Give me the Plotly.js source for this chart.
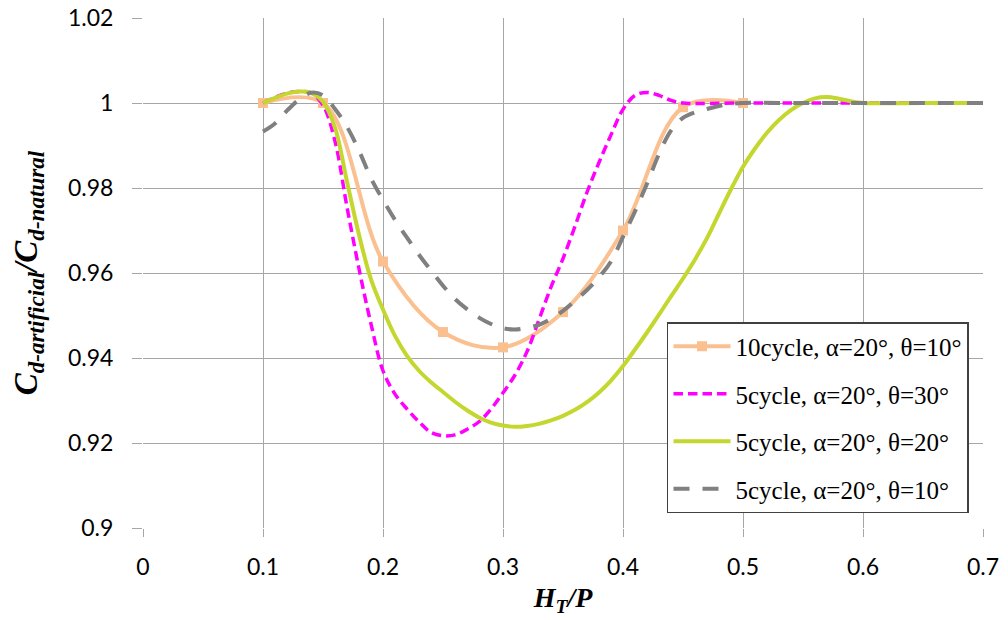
<!DOCTYPE html>
<html>
<head>
<meta charset="utf-8">
<script src="https://cdn.plot.ly/plotly-3.0.1.min.js"></script>
<style>
  html, body { margin: 0; padding: 0; background: #ffffff; }
  #chart { width: 1008px; height: 620px; }
</style>
</head>
<body>
<div id="chart"></div>
<script>
// Discharge coefficient ratio against relative head H_T/P

// 10 cycles, alpha = 20°, theta = 10° (measured points)
const xCycle10 = [0.10, 0.15, 0.20, 0.25, 0.30, 0.35, 0.40, 0.45, 0.50];
const yCycle10 = [1.0000, 1.0000, 0.9627, 0.9461, 0.9425, 0.9508, 0.9700, 0.9990, 1.0000];

// 5 cycles, alpha = 20°, theta = 30°
const xTheta30 = [0.10, 0.11, 0.12, 0.13, 0.14, 0.15, 0.16, 0.17, 0.18, 0.19, 0.20,
                  0.21, 0.22, 0.23, 0.24, 0.25, 0.26, 0.27, 0.28, 0.29, 0.30,
                  0.31, 0.32, 0.33, 0.34, 0.35, 0.36, 0.37, 0.38, 0.39, 0.40,
                  0.41, 0.42, 0.43, 0.44, 0.45, 0.50, 0.55, 0.60, 0.65, 0.70];
const yTheta30 = [1.0000, 1.0013, 1.0023, 1.0027, 1.0024, 0.9995, 0.9910, 0.9755, 0.9610, 0.9480, 0.9370,
                  0.9315, 0.9280, 0.9250, 0.9225, 0.9217, 0.9219, 0.9232, 0.9250, 0.9280, 0.9318,
                  0.9360, 0.9415, 0.9490, 0.9567, 0.9634, 0.9710, 0.9790, 0.9860, 0.9925, 0.9985,
                  1.0018, 1.0025, 1.0018, 1.0006, 1.0000, 1.0000, 1.0000, 1.0000, 1.0000, 1.0000];

// 5 cycles, alpha = 20°, theta = 20°
const xTheta20 = [0.10, 0.11, 0.12, 0.13, 0.14, 0.15, 0.16, 0.17, 0.18, 0.19, 0.20,
                  0.21, 0.22, 0.23, 0.24, 0.25, 0.26, 0.27, 0.28, 0.29, 0.30,
                  0.31, 0.32, 0.33, 0.34, 0.35, 0.36, 0.37, 0.38, 0.39, 0.40,
                  0.41, 0.42, 0.43, 0.44, 0.45, 0.46, 0.47, 0.48, 0.49, 0.50,
                  0.51, 0.52, 0.53, 0.54, 0.55, 0.56, 0.57, 0.58, 0.59, 0.60, 0.65, 0.70];
const yTheta20 = [1.0000, 1.0012, 1.0022, 1.0027, 1.0024, 1.0003, 0.9942, 0.9815, 0.9690, 0.9585, 0.9514,
                  0.9452, 0.9405, 0.9370, 0.9343, 0.9320, 0.9297, 0.9277, 0.9260, 0.9248, 0.9241,
                  0.9238, 0.9240, 0.9245, 0.9253, 0.9264, 0.9278, 0.9296, 0.9319, 0.9347, 0.9381,
                  0.9420, 0.9460, 0.9502, 0.9545, 0.9587, 0.9632, 0.9682, 0.9740, 0.9797, 0.9850,
                  0.9893, 0.9930, 0.9960, 0.9983, 1.0000, 1.0011, 1.0014, 1.0010, 1.0004, 1.0000, 1.0000, 1.0000];

// 5 cycles, alpha = 20°, theta = 10°
const xTheta10 = [0.10, 0.11, 0.12, 0.13, 0.14, 0.15, 0.16, 0.17, 0.18, 0.19, 0.20,
                  0.21, 0.22, 0.23, 0.24, 0.25, 0.26, 0.27, 0.28, 0.29, 0.30,
                  0.31, 0.32, 0.33, 0.34, 0.35, 0.36, 0.37, 0.38, 0.39, 0.40,
                  0.41, 0.42, 0.43, 0.44, 0.45, 0.46, 0.47, 0.48, 0.49, 0.50,
                  0.55, 0.60, 0.65, 0.70];
const yTheta10 = [0.9933, 0.9952, 0.9982, 1.0008, 1.0024, 1.0018, 0.9986, 0.9944, 0.9888, 0.9823, 0.9772,
                  0.9725, 0.9683, 0.9643, 0.9606, 0.9570, 0.9539, 0.9515, 0.9495, 0.9480, 0.9470,
                  0.9467, 0.9471, 0.9478, 0.9492, 0.9511, 0.9535, 0.9560, 0.9590, 0.9627, 0.9685,
                  0.9745, 0.9810, 0.9880, 0.9935, 0.9965, 0.9978, 0.9986, 0.9993, 0.9998, 1.0000,
                  1.0000, 1.0000, 1.0000, 1.0000];

const seriesNames = [
  '10cycle, α=20°, θ=10°',
  '5cycle, α=20°, θ=30°',
  '5cycle, α=20°, θ=20°',
  '5cycle, α=20°, θ=10°'
];

const xTicks = [0, 0.1, 0.2, 0.3, 0.4, 0.5, 0.6, 0.7];
const yTicks = [0.9, 0.92, 0.94, 0.96, 0.98, 1, 1.02];

const gridColor = '#a6a6a6';
const tickFont = { family: 'Lato, "Open Sans", sans-serif', size: 23, color: '#000000' };
const serifFamily = 'Liberation Serif';

// legend entries set in a serif face
const legendLabel = s => '<span style="font-family:Liberation Serif">' + s + '</span>';

const traces = [
  {
    x: xCycle10, y: yCycle10, name: legendLabel(seriesNames[0]), legendgroup: 'a',
    mode: 'lines+markers',
    line: { color: '#fac090', width: 4, shape: 'spline', smoothing: 1 },
    marker: { color: '#fac090', symbol: 'square', size: 10 }
  },
  {
    x: xTheta30, y: yTheta30, name: legendLabel(seriesNames[1]), legendgroup: 'b',
    mode: 'lines',
    line: { color: '#ff00ff', width: 3.5, dash: '9.5px,5px', shape: 'spline', smoothing: 1 }
  },
  {
    x: xTheta20, y: yTheta20, name: legendLabel(seriesNames[2]), legendgroup: 'c',
    mode: 'lines',
    line: { color: '#c4d72e', width: 4, shape: 'spline', smoothing: 1 }
  },
  {
    x: xTheta10, y: yTheta10, name: legendLabel(seriesNames[3]), legendgroup: 'd',
    mode: 'lines',
    line: { color: '#808080', width: 4, dash: '16px,13px', shape: 'spline', smoothing: 1 }
  }
];

const layout = {
  width: 1008,
  height: 620,
  margin: { l: 143, r: 25, t: 18, b: 92 },
  paper_bgcolor: '#ffffff',
  plot_bgcolor: '#ffffff',
  font: { family: serifFamily, color: '#000000' },
  showlegend: true,
  legend: {
    x: 0.6238, y: 0.4039, xanchor: 'left', yanchor: 'top',
    bgcolor: '#ffffff', bordercolor: '#404040', borderwidth: 1.5,
    font: { family: serifFamily, size: 25, color: '#000000' },
    traceorder: 'grouped', tracegroupgap: 12,
    itemwidth: 57
  },
  xaxis: {
    range: [0, 0.7],
    tickvals: xTicks,
    ticktext: xTicks.map(String),
    showgrid: true, gridcolor: gridColor, gridwidth: 1,
    zeroline: false, showline: false,
    ticks: 'outside', ticklen: 8, tickcolor: gridColor, tickwidth: 1,
    ticklabelstandoff: 10,
    tickfont: tickFont,
    title: {
      text: '<b><i>H<sub>T</sub>/P</i></b>',
      font: { family: serifFamily, size: 28, color: '#000000' },
      standoff: 8
    }
  },
  yaxis: {
    range: [0.9, 1.02],
    tickvals: yTicks,
    ticktext: yTicks.map(String),
    showgrid: true, gridcolor: gridColor, gridwidth: 1,
    zeroline: false, showline: false,
    ticks: 'outside', ticklen: 10, tickcolor: gridColor, tickwidth: 1,
    ticklabelstandoff: 14,
    tickfont: tickFont,
    title: {
      text: '<b><i>C<sub>d-artificial</sub>/C<sub>d-natural</sub></i></b>',
      font: { family: serifFamily, size: 33, color: '#000000' },
      standoff: 20
    }
  }
};

Plotly.newPlot('chart', traces, layout, { displayModeBar: false, staticPlot: true });
</script>
</body>
</html>
